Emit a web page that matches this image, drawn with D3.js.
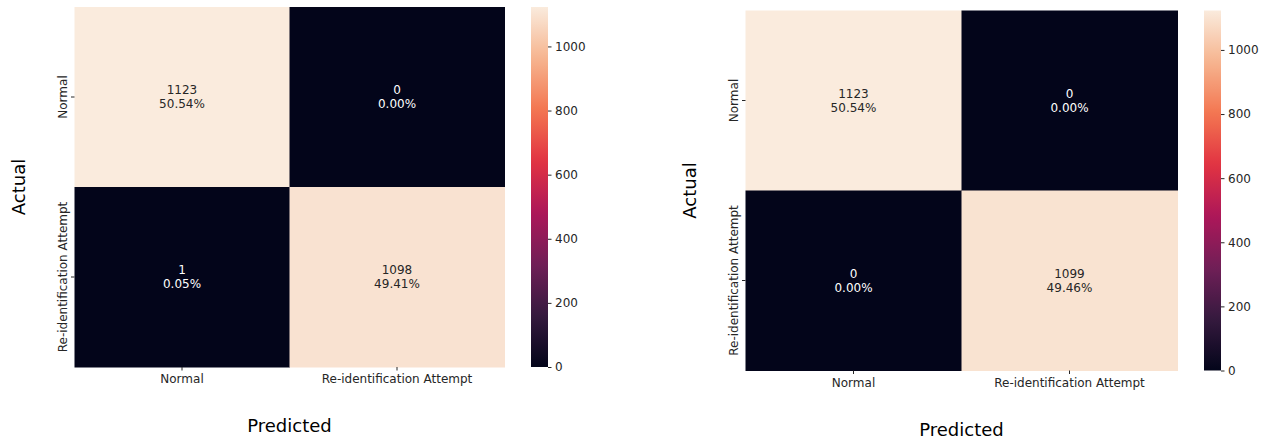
<!DOCTYPE html>
<html>
<head>
<meta charset="utf-8">
<script src="https://cdn.jsdelivr.net/npm/d3@7"></script>
<style>
  html, body { margin: 0; padding: 0; background: #fff; }
  svg { display: block; font-family: "DejaVu Sans", sans-serif; }
</style>
</head>
<body>
<svg id="chart" width="1274" height="440"></svg>
<script>
// Class labels shared by both confusion matrices
const categories = ["Normal", "Re-identification Attempt"];

// Confusion matrix counts, rows = actual, columns = predicted
const countsA = [[1123, 0], [1, 1098]];
const countsB = [[1123, 0], [0, 1099]];

// Colorbar tick values
const cbTicks = [0, 200, 400, 600, 800, 1000];

// Axis titles
const xTitle = "Predicted";
const yTitle = "Actual";

// "rocket" colour map stops
const rocketStops = ["#03051a", "#35193e", "#701f57", "#ad1759", "#e13342", "#f37651", "#f6b48f", "#faebdd"];

const svg = d3.select("#chart");

function drawPanel(counts, layout) {
  const flat = counts.flat();
  const total = d3.sum(flat);
  const vmin = d3.min(flat), vmax = d3.max(flat);

  const cmap = d3.scaleLinear()
    .domain(rocketStops.map((_, i) => vmin + (vmax - vmin) * i / (rocketStops.length - 1)))
    .range(rocketStops)
    .interpolate(d3.interpolateRgb)
    .clamp(true);

  const g = svg.append("g");
  const x = d3.scaleBand().domain(categories).range([layout.x0, layout.x1]);
  const y = d3.scaleBand().domain(categories).range([layout.y0, layout.y1]);

  const cells = [];
  counts.forEach((row, i) => row.forEach((v, j) => cells.push({ r: categories[i], c: categories[j], v })));

  g.selectAll("rect.cell").data(cells).join("rect")
    .attr("class", "cell")
    .attr("x", d => x(d.c))
    .attr("y", d => y(d.r))
    .attr("width", x.bandwidth() + 0.5)
    .attr("height", y.bandwidth() + 0.5)
    .attr("fill", d => cmap(d.v));

  // annotations: count and share of total
  const ann = g.selectAll("text.ann").data(cells).join("text")
    .attr("class", "ann")
    .attr("text-anchor", "middle")
    .attr("font-size", 12)
    .attr("fill", d => (d.v - vmin) / (vmax - vmin) > 0.5 ? "#262626" : "#ffffff");
  ann.append("tspan")
    .attr("x", d => x(d.c) + x.bandwidth() / 2)
    .attr("y", d => y(d.r) + y.bandwidth() / 2 - 3)
    .text(d => d.v);
  ann.append("tspan")
    .attr("x", d => x(d.c) + x.bandwidth() / 2)
    .attr("y", d => y(d.r) + y.bandwidth() / 2 + 11)
    .text(d => (d.v / total * 100).toFixed(2) + "%");

  // x axis
  const xAxis = g.append("g")
    .attr("transform", `translate(0,${layout.y1})`)
    .call(d3.axisBottom(x).tickSize(3.5).tickPadding(4));
  xAxis.select(".domain").remove();
  xAxis.selectAll("text").attr("font-size", 12).attr("fill", "#262626").attr("font-family", "DejaVu Sans");
  xAxis.selectAll("line").attr("stroke", "#262626");

  // y axis with rotated labels
  const yAxis = g.append("g")
    .attr("transform", `translate(${layout.x0},0)`)
    .call(d3.axisLeft(y).tickSize(3.5).tickPadding(4));
  yAxis.select(".domain").remove();
  yAxis.selectAll("line").attr("stroke", "#262626");
  yAxis.selectAll("text")
    .attr("font-size", 12).attr("fill", "#262626").attr("font-family", "DejaVu Sans")
    .attr("x", null).attr("dy", null)
    .attr("text-anchor", "middle")
    .attr("transform", "translate(-7.5,0) rotate(-90)");

  // axis titles
  g.append("text")
    .attr("x", (layout.x0 + layout.x1) / 2)
    .attr("y", layout.y1 + 65)
    .attr("text-anchor", "middle")
    .attr("font-size", 18)
    .attr("fill", "#000")
    .text(xTitle);
  g.append("text")
    .attr("transform", `translate(${layout.x0 - 50},${(layout.y0 + layout.y1) / 2}) rotate(-90)`)
    .attr("text-anchor", "middle")
    .attr("font-size", 18)
    .attr("fill", "#000")
    .text(yTitle);

  // colorbar
  const cb = layout.cb;
  const cbScale = d3.scaleLinear().domain([vmin, vmax]).range([layout.y1, layout.y0]);
  const gradId = "grad" + layout.id;
  const grad = svg.append("defs").append("linearGradient")
    .attr("id", gradId).attr("x1", 0).attr("y1", 1).attr("x2", 0).attr("y2", 0);
  d3.range(0, 1.0001, 0.02).forEach(t => {
    grad.append("stop").attr("offset", t).attr("stop-color", cmap(vmin + t * (vmax - vmin)));
  });
  g.append("rect")
    .attr("x", cb).attr("y", layout.y0)
    .attr("width", 17).attr("height", layout.y1 - layout.y0)
    .attr("fill", `url(#${gradId})`);
  const cAxis = g.append("g")
    .attr("transform", `translate(${cb + 17},0)`)
    .call(d3.axisRight(cbScale).tickValues(cbTicks).tickSize(3.5).tickPadding(3.5).tickFormat(d3.format("d")));
  cAxis.select(".domain").remove();
  cAxis.selectAll("line").attr("stroke", "#262626");
  cAxis.selectAll("text").attr("font-size", 12).attr("fill", "#262626").attr("font-family", "DejaVu Sans");
}

drawPanel(countsA, { id: "a", x0: 74.5, x1: 504.5, y0: 7, y1: 367, cb: 531 });
drawPanel(countsB, { id: "b", x0: 745.5, x1: 1177.5, y0: 10.5, y1: 370.5, cb: 1204 });
</script>
</body>
</html>
